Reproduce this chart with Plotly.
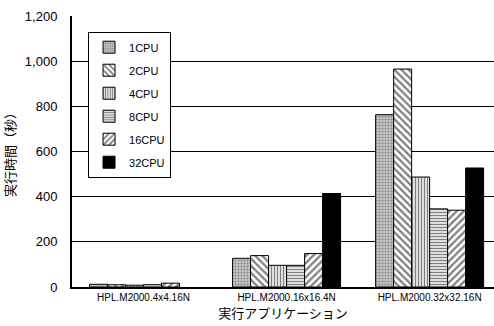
import plotly.graph_objects as go

categories = ["HPL.M2000.4x4.16N", "HPL.M2000.16x16.4N", "HPL.M2000.32x32.16N"]
series_names = ["1CPU", "2CPU", "4CPU", "8CPU", "16CPU", "32CPU"]
cpu1 = [12, 127, 763]
cpu2 = [10, 139, 965]
cpu4 = [8, 96, 487]
cpu8 = [10, 96, 346]
cpu16 = [17, 148, 340]
cpu32 = [None, 414, 527]
y_ticks = [0, 200, 400, 600, 800, 1000, 1200]
y_ticklabels = ["0", "200", "400", "600", "800", "1,000", "1,200"]

values = [cpu1, cpu2, cpu4, cpu8, cpu16, cpu32]
patterns = [
    dict(shape=".", fgcolor="#444444", bgcolor="#c8c8c8", size=3, solidity=0.4),
    dict(shape="\\", fgcolor="black", bgcolor="white", size=5, solidity=0.45),
    dict(shape="|", fgcolor="black", bgcolor="white", size=3, solidity=0.5),
    dict(shape="-", fgcolor="black", bgcolor="white", size=3, solidity=0.5),
    dict(shape="/", fgcolor="black", bgcolor="white", size=5, solidity=0.45),
    dict(shape="", fgcolor="black", bgcolor="black"),
]

fig = go.Figure()
for i, (name, vals, pat) in enumerate(zip(series_names, values, patterns)):
    fig.add_trace(go.Bar(
        x=categories, y=vals, name=name,
        legendgroup=f"g{i}",
        marker=dict(color="black" if i == 5 else "white",
                    pattern=pat,
                    line=dict(color="black", width=1)),
    ))

fig.update_layout(
    width=494, height=326,
    margin=dict(l=72, r=0, t=16, b=39, autoexpand=False),
    paper_bgcolor="white", plot_bgcolor="white",
    barmode="group", bargap=0.245, bargroupgap=0,
    font=dict(family="Liberation Sans, Arial, sans-serif", color="black", size=12),
    showlegend=True,
    legend=dict(
        x=0.038, y=0.942, xanchor="left", yanchor="top",
        bgcolor="white", bordercolor="black", borderwidth=1,
        font=dict(family="Liberation Sans Narrow, Arial Narrow, sans-serif", size=11),
        traceorder="grouped", tracegroupgap=4,
        itemwidth=30,
    ),
    xaxis=dict(
        range=[-0.5, 2.45], showline=True, linecolor="black", linewidth=2,
        ticks="", tickfont=dict(size=10), showgrid=False, automargin=False,
        title=dict(text="実行アプリケーション", font=dict(family="Noto Sans CJK JP", size=13), standoff=7),
    ),
    yaxis=dict(
        range=[0, 1200], tickvals=y_ticks, ticktext=y_ticklabels,
        showline=True, linecolor="black", linewidth=2,
        showgrid=True, gridcolor="black", gridwidth=1,
        ticks="", tickfont=dict(size=13), ticklabelstandoff=10, automargin=False,
        title=dict(text="実行時間（秒）", font=dict(family="Noto Sans CJK JP", size=13), standoff=6),
        zeroline=False,
    ),
)

fig.write_html("out.html", config={"displayModeBar": False},
               post_script="document.body.style.margin='0';document.body.style.overflow='hidden';")
